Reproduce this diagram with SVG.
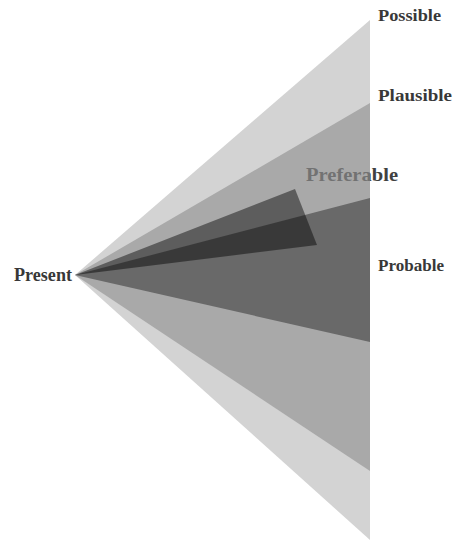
<svg xmlns="http://www.w3.org/2000/svg" width="453" height="542" viewBox="0 0 453 542">
<style>
.lbl{font-family:'Liberation Serif','Times New Roman',Times,serif;font-weight:700;fill:#383838;}
</style>
<defs>
<linearGradient id="prefFill" gradientUnits="userSpaceOnUse" x1="0" y1="0" x2="453" y2="0">
<stop offset="0" stop-color="#727272"/>
<stop offset="0.8168" stop-color="#727272"/>
<stop offset="0.8168" stop-color="#404040"/>
<stop offset="1" stop-color="#404040"/>
</linearGradient>
</defs>
<rect width="453" height="542" fill="#ffffff"/>
<g id="possible">
<polygon points="75,275 370,20 370,540" fill="#d3d3d3"/>
<text class="lbl" x="378" y="21" font-size="16" textLength="63" lengthAdjust="spacingAndGlyphs">Possible</text>
</g>
<g id="plausible">
<polygon points="75,275 370,103 370,471" fill="#a9a9a9"/>
<text class="lbl" x="378" y="101" font-size="16" textLength="74" lengthAdjust="spacingAndGlyphs">Plausible</text>
</g>
<g id="probable">
<polygon points="75,275 370,198 370,342" fill="#696969"/>
<text class="lbl" x="378" y="271" font-size="16" textLength="66" lengthAdjust="spacingAndGlyphs">Probable</text>
</g>
<g id="preferable">
<polygon points="75,275 295,189 317,245" fill="#000000" fill-opacity="0.45"/>
<text class="lbl" x="306" y="181" font-size="19" textLength="92" lengthAdjust="spacingAndGlyphs" style="fill:url(#prefFill)">Preferable</text>
</g>
<g id="present">
<text class="lbl" x="14" y="281" font-size="18" textLength="58" lengthAdjust="spacingAndGlyphs">Present</text>
</g>
<g id="connectors"></g>
</svg>
